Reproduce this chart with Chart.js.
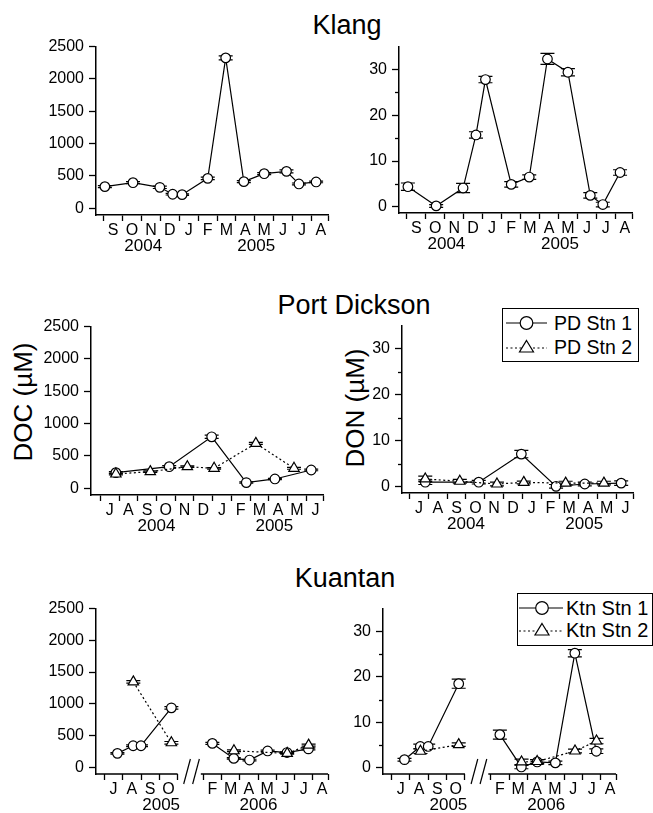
<!DOCTYPE html>
<html lang="en">
<head>
<meta charset="UTF-8">
<title>DOC / DON - Klang, Port Dickson, Kuantan</title>
<script src="https://cdn.jsdelivr.net/npm/chart.js@4"></script>
<style>
  body { margin: 0; background: #fff; overflow: hidden; }
  #page { position: relative; width: 653px; height: 813px; font-family: "Liberation Sans", Arial, sans-serif; color: #000; }
  canvas { position: absolute; }
  .title { position: absolute; width: 240px; text-align: center; font-size: 27px; line-height: 27px; }
  .ytitle { position: absolute; font-size: 26px; line-height: 26px; white-space: nowrap; transform: translate(-50%, -50%) rotate(-90deg); }
  .legend { position: absolute; border: 1.5px solid #000; background: #fff; box-sizing: border-box; }
  .legend svg { position: absolute; }
  .legend span { position: absolute; white-space: nowrap; line-height: 20px; }
</style>
</head>
<body>
<div id="page">
  <div class="title" style="left:227px; top:12px">Klang</div>
  <div class="title" style="left:234px; top:292px">Port Dickson</div>
  <div class="title" style="left:225px; top:565px">Kuantan</div>

  <div class="ytitle" style="left:23px; top:402px">DOC (µM)</div>
  <div class="ytitle" style="left:355px; top:408px">DON (µM)</div>

  <canvas id="klangDocChart"></canvas>
  <canvas id="klangDonChart"></canvas>
  <canvas id="pdDocChart"></canvas>
  <canvas id="pdDonChart"></canvas>
  <canvas id="ktnDocChart"></canvas>
  <canvas id="ktnDonChart"></canvas>

  <div class="legend" style="left:502px; top:308px; width:137px; height:54px">
    <svg style="left:3px; top:4px" width="41" height="20">
      <line x1="0" y1="10" x2="41" y2="10" stroke="#000" stroke-width="1.2"/>
      <circle cx="20.5" cy="10" r="6.3" fill="#fff" stroke="#000" stroke-width="1.2"/>
    </svg>
    <span style="left:51px; top:4px; font-size:19.5px">PD Stn 1</span>
    <svg style="left:3px; top:28px" width="41" height="20">
      <line x1="0" y1="11" x2="41" y2="11" stroke="#000" stroke-width="1.2" stroke-dasharray="2 2.5"/>
      <polygon points="20.5,3.5 27.5,15 13.5,15" fill="#fff" stroke="#000" stroke-width="1.2"/>
    </svg>
    <span style="left:51px; top:28px; font-size:19.5px">PD Stn 2</span>
  </div>

  <div class="legend" style="left:517px; top:593px; width:136px; height:53px">
    <svg style="left:1px; top:4px" width="44" height="20">
      <line x1="0" y1="10" x2="44" y2="10" stroke="#000" stroke-width="1.2"/>
      <circle cx="23" cy="10" r="6.3" fill="#fff" stroke="#000" stroke-width="1.2"/>
    </svg>
    <span style="left:48px; top:4px; font-size:20px">Ktn Stn 1</span>
    <svg style="left:1px; top:26px" width="44" height="20">
      <line x1="0" y1="11" x2="44" y2="11" stroke="#000" stroke-width="1.2" stroke-dasharray="2 2.5"/>
      <polygon points="23,3.5 30,15 16,15" fill="#fff" stroke="#000" stroke-width="1.2"/>
    </svg>
    <span style="left:48px; top:26px; font-size:20px">Ktn Stn 2</span>
  </div>
</div>

<script>
  // ---- data (x = months from the first tick on each time axis) ----
  const docTicks = [0, 500, 1000, 1500, 2000, 2500];
  const donTicks = [0, 10, 20, 30];
  const donMinor = [5, 15, 25];

  // Klang, Sep 2004 - Aug 2005
  const klangMonths = ['S', 'O', 'N', 'D', 'J', 'F', 'M', 'A', 'M', 'J', 'J', 'A', ''];
  const klangTicks = [0, 1, 2, 3, 4, 5, 6, 7, 8, 9, 10, 11, 11.88];
  const klangX = [0.06, 1.55, 2.97, 3.65, 4.15, 5.51, 6.46, 7.42, 8.5, 9.68, 10.34, 11.25];
  const klangDoc = [334, 395, 323, 216, 210, 462, 2326, 411, 534, 570, 375, 406];
  const klangDocErr = [15, 15, 18, 12, 12, 20, 30, 15, 15, 22, 15, 12];
  const klangDon = [4.4, 0.2, 4.1, 15.7, 27.8, 4.9, 6.5, 32.3, 29.4, 2.5, 0.5, 7.5];
  const klangDonErr = [0.8, 0.3, 1.0, 0.7, 0.7, 0.6, 0.5, 1.2, 0.8, 0.6, 0.5, 0.6];
  const klangYears = [[2.09, '2004'], [8.08, '2005']];

  // Port Dickson, Jul 2004 - Jun 2005
  const pdMonths = ['J', 'A', 'S', 'O', 'N', 'D', 'J', 'F', 'M', 'A', 'M', 'J', ''];
  const pdTicks = [0, 1, 2, 3, 4, 5, 6, 7, 8, 9, 10, 11, 11.9];
  const pdX1 = [0.83, 3.68, 5.95, 7.8, 9.33, 11.27];
  const pdDoc1 = [241, 333, 795, 87, 143, 282];
  const pdDocErr1 = [15, 15, 25, 10, 10, 12];
  const pdDon1 = [1.0, 1.0, 7.1, 0.1, 0.6, 0.8];
  const pdDonErr1 = [0.5, 0.4, 0.8, 0.4, 0.4, 0.5];
  const pdX2 = [0.83, 2.67, 4.65, 6.08, 8.31, 10.35];
  const pdDoc2 = [220, 256, 333, 308, 693, 308];
  const pdDocErr2 = [15, 12, 12, 12, 15, 15];
  const pdDon2 = [1.7, 1.2, 0.6, 0.95, 0.8, 0.8];
  const pdDonErr2 = [0.6, 0.4, 0.4, 0.3, 0.4, 0.4];
  const pdYears = [[3.0, '2004'], [9.3, '2005']];

  // Kuantan, Jul 2005 - Aug 2006, axis broken between Nov and Feb
  const ktnMonths = ['J', 'A', 'S', 'O', '', 'F', 'M', 'A', 'M', 'J', 'J', 'A', ''];
  const ktnTicks = [0, 1, 2, 3, 4, 5.4, 6.4, 7.4, 8.4, 9.4, 10.4, 11.4, 12.22];
  const ktnX1 = [0.71, 1.57, 2.0, 3.66, 5.9, 7.07, 7.93, 8.92, 9.98, 11.15];
  const ktnDoc1 = [220, 340, 340, 937, 377, 141, 115, 258, 233, 290];
  const ktnDocErr1 = [12, 15, 15, 20, 15, 12, 12, 12, 12, 15];
  const ktnDon1 = [1.8, 4.7, 4.7, 18.5, 7.3, 0.2, 1.3, 1.1, 25.2, 3.65];
  const ktnDonErr1 = [0.3, 0.5, 0.5, 1.0, 1.0, 0.4, 0.5, 0.4, 0.8, 0.5];
  const ktnX2Doc = [1.58, 3.66, 7.08, 9.99, 11.16];
  const ktnDoc2 = [1346, 387, 261, 220, 350];
  const ktnDocErr2 = [20, 20, 15, 12, 15];
  const ktnX2Don = [1.58, 3.66, 7.08, 7.93, 9.99, 11.16];
  const ktnDon2 = [3.65, 5.1, 1.3, 1.4, 3.7, 5.9];
  const ktnDonErr2 = [0.5, 0.4, 0.6, 0.4, 0.4, 0.6];
  const ktnYears = [[3.1, '2005'], [8.42, '2006']];
  const ktnGap = 4.7;

  const ink = '#000';
  const font = { family: '"Liberation Sans", Arial, sans-serif', size: 16 };

  // extra drawing per canvas: error bars, minor ticks, years, broken axis
  const extraFor = {};

  const extras = {
    id: 'extras',
    beforeDatasetsDraw(chart) {
      const ctx = chart.ctx, xs = chart.scales.x, ys = chart.scales.y;
      ctx.save();
      ctx.strokeStyle = ink;
      ctx.lineWidth = 1.2;
      chart.data.datasets.forEach(ds => {
        ds.data.forEach(p => {
          if (p.y == null || !p.e) return;
          const x = xs.getPixelForValue(p.x);
          const y1 = ys.getPixelForValue(p.y + p.e);
          const y2 = ys.getPixelForValue(p.y - p.e);
          ctx.beginPath();
          ctx.moveTo(x, y1); ctx.lineTo(x, y2);
          ctx.moveTo(x - 7, y1); ctx.lineTo(x + 7, y1);
          ctx.moveTo(x - 7, y2); ctx.lineTo(x + 7, y2);
          ctx.stroke();
        });
      });
      ctx.restore();
    },
    afterDraw(chart) {
      const o = extraFor[chart.canvas.id];
      if (!o) return;
      const ctx = chart.ctx, xs = chart.scales.x, ys = chart.scales.y, a = chart.chartArea;
      ctx.save();
      ctx.strokeStyle = ink;
      ctx.fillStyle = ink;
      ctx.lineWidth = 1.3;
      (o.minor || []).forEach(v => {
        const y = Math.round(ys.getPixelForValue(v)) + 0.5;
        ctx.beginPath(); ctx.moveTo(a.left - 4, y); ctx.lineTo(a.left, y); ctx.stroke();
      });
      ctx.font = '17px "Liberation Sans", Arial, sans-serif';
      ctx.textAlign = 'center';
      ctx.textBaseline = 'middle';
      (o.years || []).forEach(([x, t]) => ctx.fillText(t, xs.getPixelForValue(x), a.bottom + 31));
      if (o.cut) {
        const yb = Math.round(a.bottom);
        ctx.lineWidth = 1.5;
        ctx.beginPath();
        ctx.moveTo(a.left, yb); ctx.lineTo(xs.getPixelForValue(o.cut[0]), yb);
        ctx.moveTo(xs.getPixelForValue(o.cut[1]), yb); ctx.lineTo(a.right, yb);
        ctx.stroke();
        ctx.lineWidth = 1.2;
        o.slash.forEach(v => {
          const px = xs.getPixelForValue(v);
          ctx.beginPath(); ctx.moveTo(px - 2.7, yb + 10); ctx.lineTo(px + 4, yb - 15); ctx.stroke();
        });
      }
      ctx.restore();
    }
  };

  function pts(xs, ys, es) {
    return xs.map((x, i) => ({ x: x, y: ys[i], e: es[i] }));
  }

  // null point so the line does not run across the axis break
  function withGap(p, at) {
    return [...p.filter(d => d.x < at), { x: at, y: null, e: 0 }, ...p.filter(d => d.x > at)];
  }

  function series(data, dotted) {
    return {
      data: data,
      borderColor: ink,
      borderWidth: 1.2,
      borderDash: dotted ? [2, 2.5] : [],
      pointStyle: dotted ? 'triangle' : 'circle',
      pointRadius: dotted ? 6 : 4.8,
      pointBackgroundColor: '#fff',
      pointBorderColor: ink,
      pointBorderWidth: 1.2,
      tension: 0,
      spanGaps: false,
      order: dotted ? 1 : 2
    };
  }

  function panel(id, box, xa, ya, datasets) {
    const cv = document.getElementById(id);
    const W = box.r - box.l + 72, H = box.b - box.t + 64;
    cv.width = W; cv.height = H;
    cv.style.left = (box.l - 60) + 'px';
    cv.style.top = (box.t - 14) + 'px';
    cv.style.width = W + 'px';
    cv.style.height = H + 'px';
    const off = (box.r - box.l) / (xa.max - xa.min) / 2;

    return new Chart(cv, {
      type: 'line',
      data: { datasets: datasets },
      options: {
        responsive: false,
        animation: false,
        devicePixelRatio: 1,
        layout: { padding: { left: 0, top: 14, right: 12, bottom: 0 } },
        plugins: { legend: { display: false }, tooltip: { enabled: false } },
        scales: {
          x: {
            type: 'linear',
            min: xa.min, max: xa.max,
            afterBuildTicks: s => { s.ticks = xa.ticks.map(v => ({ value: v })); },
            afterFit: s => { s.height = 50; },
            ticks: {
              callback: (v, i) => xa.labels[i],
              labelOffset: off, padding: 0,
              autoSkip: false, maxRotation: 0, minRotation: 0,
              font: font, color: ink
            },
            grid: { drawOnChartArea: false, drawTicks: true, tickLength: 6, tickColor: ink, tickWidth: 1.3 },
            border: { display: !xa.cut, color: ink, width: 1.5 }
          },
          y: {
            min: ya.min, max: ya.max,
            afterBuildTicks: s => { s.ticks = ya.ticks.map(v => ({ value: v })); },
            afterFit: s => { s.width = 60; },
            ticks: { callback: v => String(v), padding: 5, font: font, color: ink },
            grid: { drawOnChartArea: false, drawTicks: true, tickLength: 7, tickColor: ink, tickWidth: 1.3 },
            border: { color: ink, width: 1.5 }
          }
        }
      },
      plugins: [extras]
    });
  }

  const docY = { min: -105, max: 2500, ticks: docTicks };
  const donY = { min: -1.35, max: 35, ticks: donTicks };
  const klangAxis = { min: -0.41, max: 11.88, ticks: klangTicks, labels: klangMonths };
  const pdAxis1 = { min: -0.5, max: 11.9, ticks: pdTicks, labels: pdMonths };
  const pdAxis2 = { min: -0.41, max: 11.9, ticks: pdTicks, labels: pdMonths };
  const ktnAxis = { min: -0.46, max: 12.22, ticks: ktnTicks, labels: ktnMonths, cut: true };

  extraFor.klangDocChart = { years: klangYears };
  extraFor.klangDonChart = { years: klangYears, minor: donMinor };
  extraFor.pdDocChart = { years: pdYears };
  extraFor.pdDonChart = { years: pdYears, minor: donMinor };
  extraFor.ktnDocChart = { years: ktnYears, cut: [4, 5.27], slash: [4.48, 4.97] };
  extraFor.ktnDonChart = { years: ktnYears, minor: donMinor, cut: [4, 5.27], slash: [4.48, 4.97] };

  panel('klangDocChart', { l: 96, t: 46, r: 328, b: 215 }, klangAxis, docY, [
    series(pts(klangX, klangDoc, klangDocErr), false)
  ]);
  panel('klangDonChart', { l: 399, t: 46, r: 632, b: 213 }, klangAxis, donY, [
    series(pts(klangX, klangDon, klangDonErr), false)
  ]);
  panel('pdDocChart', { l: 91, t: 326, r: 323, b: 495 }, pdAxis1, docY, [
    series(pts(pdX1, pdDoc1, pdDocErr1), false),
    series(pts(pdX2, pdDoc2, pdDocErr2), true)
  ]);
  panel('pdDonChart', { l: 402, t: 325, r: 633, b: 493 }, pdAxis2, donY, [
    series(pts(pdX1, pdDon1, pdDonErr1), false),
    series(pts(pdX2, pdDon2, pdDonErr2), true)
  ]);
  panel('ktnDocChart', { l: 96, t: 608, r: 328, b: 774 }, ktnAxis, docY, [
    series(withGap(pts(ktnX1, ktnDoc1, ktnDocErr1), ktnGap), false),
    series(withGap(pts(ktnX2Doc, ktnDoc2, ktnDocErr2), ktnGap), true)
  ]);
  panel('ktnDonChart', { l: 383, t: 608, r: 616, b: 774 }, ktnAxis, donY, [
    series(withGap(pts(ktnX1, ktnDon1, ktnDonErr1), ktnGap), false),
    series(withGap(pts(ktnX2Don, ktnDon2, ktnDonErr2), ktnGap), true)
  ]);
</script>
</body>
</html>
